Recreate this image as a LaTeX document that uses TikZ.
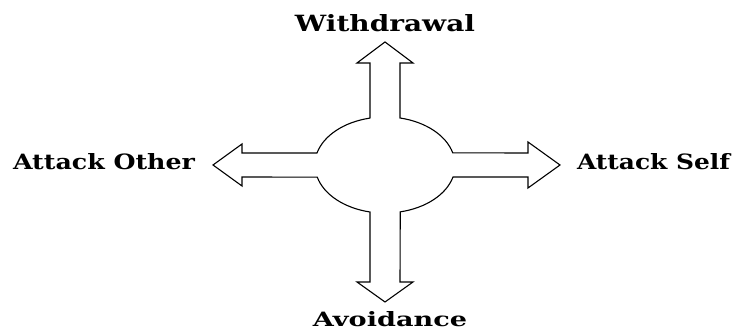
\documentclass[tikz,border=0pt]{standalone}
\usepackage{graphicx}
\usepackage{fontspec}
\setmainfont{DejaVu Serif}
\begin{document}
\begin{tikzpicture}[x=1pt,y=1pt,
  outline/.style={draw=black,line width=1.1pt,line join=miter},
  lbl/.style={inner sep=0pt,anchor=base,font=\bfseries}]
\useasboundingbox (0,0) rectangle (734,331);
\draw[outline] (370,213) -- (370,268) -- (357,268) -- (385,289) -- (413,268) -- (400,268) -- (400,213)
  arc[start angle=77.6, end angle=14.5, x radius=70pt, y radius=48pt]
  -- (528,178) -- (528,189) -- (560,166) -- (528,143) -- (528,154) -- (453,154)
  arc[start angle=-14.5, end angle=-77.6, x radius=70pt, y radius=48pt]
  -- (400,49) -- (413,49) -- (385,29) -- (357,49) -- (370,49) -- (370,119)
  arc[start angle=-102.4, end angle=-165.5, x radius=70pt, y radius=48pt]
  -- (242,154) -- (242,145) -- (213,166) -- (242,187) -- (242,178) -- (317,178)
  arc[start angle=165.5, end angle=102.4, x radius=70pt, y radius=48pt]
  -- cycle;
\node[lbl] (w) at (385,299) {\resizebox{180pt}{17pt}{Withdrawal}};
\node[lbl] (o) at (104,161) {\resizebox{182pt}{16pt}{Attack Other}};
\node[lbl] (s) at (653.5,161) {\resizebox{153pt}{16pt}{Attack Self}};
\node[lbl] (v) at (390,4) {\resizebox{154pt}{15pt}{Avoidance}};
\end{tikzpicture}
\end{document}
